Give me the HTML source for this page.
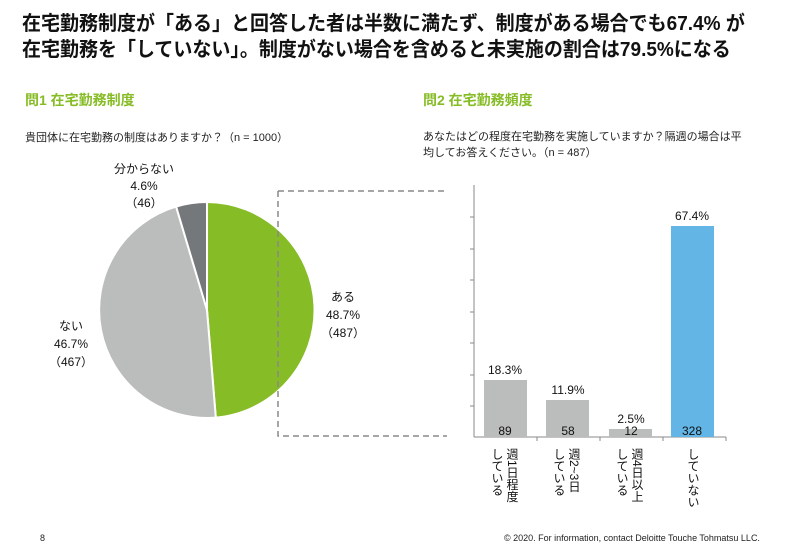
<!DOCTYPE html>
<html><head><meta charset="utf-8"><style>
body{margin:0;width:800px;height:553px;background:#fff;font-family:"Liberation Sans","Noto Sans CJK JP",sans-serif;overflow:hidden;position:relative}
.a{position:absolute;white-space:nowrap}
</style></head><body>
<div class="a" style="left:22px;top:11px;font-size:20px;font-weight:bold;line-height:26px;color:#111;transform:scaleX(0.95);transform-origin:0 0">在宅勤務制度が「ある」と回答した者は半数に満たず、制度がある場合でも67.4% が<br>在宅勤務を「していない」。制度がない場合を含めると未実施の割合は79.5%になる</div>
<div class="a" style="left:25px;top:90px;font-size:14px;font-weight:bold;color:#86bc25">問1 在宅勤務制度</div>
<div class="a" style="left:423px;top:90px;font-size:14px;font-weight:bold;color:#86bc25">問2 在宅勤務頻度</div>
<div class="a" style="left:25px;top:129px;font-size:11px;color:#222">貴団体に在宅勤務の制度はありますか？（n = 1000）</div>
<div class="a" style="left:423px;top:129px;font-size:11px;line-height:16px;color:#222">あなたはどの程度在宅勤務を実施していますか？隔週の場合は平<br>均してお答えください。（n = 487）</div>
<svg class="a" style="left:0;top:0" width="800" height="553">
<path d="M207,310 L207,202 A108,108 0 0 1 215.8,417.6 Z" fill="#86bc25" stroke="#fff" stroke-width="2"/>
<path d="M207,310 L215.8,417.6 A108,108 0 0 1 176.1,206.5 Z" fill="#bbbdbc" stroke="#fff" stroke-width="2"/>
<path d="M207,310 L176.1,206.5 A108,108 0 0 1 207,202 Z" fill="#75787b" stroke="#fff" stroke-width="2"/>
<path d="M278,191 H447 M278,191 V436 H447" fill="none" stroke="#888" stroke-width="1.5" stroke-dasharray="6,4"/>
<g stroke="#888" stroke-width="1">
<line x1="474" y1="185" x2="474" y2="437"/>
<line x1="474" y1="437" x2="726" y2="437"/>
<line x1="470" y1="217" x2="474" y2="217"/><line x1="470" y1="249" x2="474" y2="249"/>
<line x1="470" y1="280" x2="474" y2="280"/><line x1="470" y1="312" x2="474" y2="312"/>
<line x1="470" y1="343" x2="474" y2="343"/><line x1="470" y1="375" x2="474" y2="375"/>
<line x1="470" y1="406" x2="474" y2="406"/>
<line x1="537" y1="437" x2="537" y2="441"/><line x1="600" y1="437" x2="600" y2="441"/>
<line x1="663" y1="437" x2="663" y2="441"/><line x1="726" y1="437" x2="726" y2="441"/>
</g>
<rect x="484" y="380" width="43" height="57" fill="#bbbdbc"/>
<rect x="546" y="400" width="43" height="37" fill="#bbbdbc"/>
<rect x="609" y="429" width="43" height="8" fill="#bbbdbc"/>
<rect x="671" y="226" width="43" height="211" fill="#62b5e5"/>
<g font-size="12" fill="#111" text-anchor="middle">
<text x="505" y="374">18.3%</text><text x="505" y="435">89</text>
<text x="568" y="394">11.9%</text><text x="568" y="435">58</text>
<text x="631" y="423">2.5%</text><text x="631" y="435">12</text>
<text x="692" y="220">67.4%</text><text x="692" y="435">328</text>
<text x="343" y="301">ある</text><text x="343" y="319">48.7%</text><text x="343" y="337">（487）</text>
<text x="71" y="330">ない</text><text x="71" y="348">46.7%</text><text x="71" y="366">（467）</text>
<text x="144" y="173">分からない</text><text x="144" y="190">4.6%</text><text x="144" y="207">（46）</text>
</g>
<g font-size="12" fill="#111" style="writing-mode:vertical-rl">
<text x="512" y="448">週1日程度</text><text x="497" y="448">している</text>
<text x="574" y="448">週2~3日</text><text x="559" y="448">している</text>
<text x="637" y="448">週4日以上</text><text x="622" y="448">している</text>
<text x="693" y="448">していない</text>
</g>
</svg>
<div class="a" style="left:40px;top:533px;font-size:9px;color:#222">8</div>
<div class="a" style="left:504px;top:533px;font-size:9px;color:#222">© 2020. For information, contact Deloitte Touche Tohmatsu LLC.</div>
</body></html>
